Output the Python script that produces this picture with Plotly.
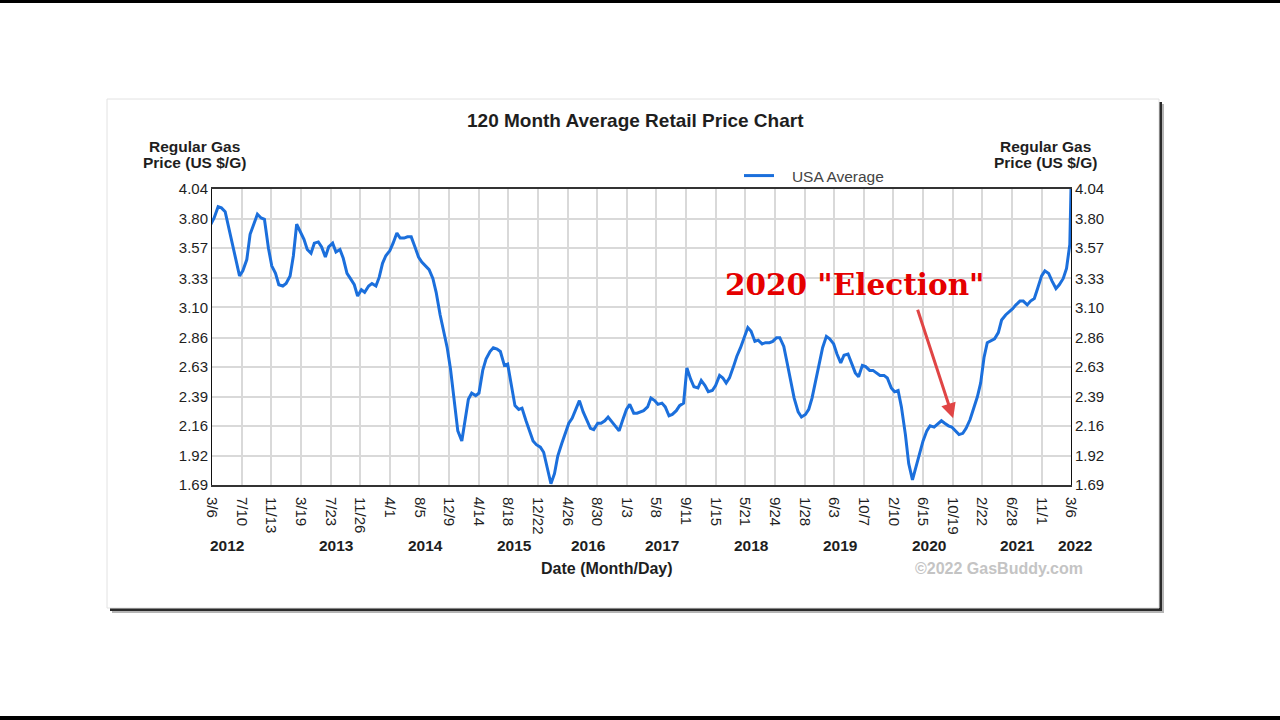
import pandas as pd
import plotly.graph_objects as go

# ---------------- data (semi-monthly: 1st and 15th of each month) ----------------
p2012 = [3.76, 3.81, 3.90, 3.89, 3.86, 3.74, 3.60, 3.49, 3.35, 3.39,
         3.48, 3.68, 3.77, 3.84, 3.81, 3.80, 3.57, 3.43, 3.37, 3.28]          # Mar..Dec
p2013 = [3.27, 3.29, 3.35, 3.51, 3.76, 3.71, 3.64, 3.56, 3.53, 3.61, 3.62, 3.58,
         3.50, 3.58, 3.61, 3.54, 3.56, 3.49, 3.37, 3.33, 3.28, 3.19, 3.24, 3.22]
p2014 = [3.27, 3.29, 3.27, 3.34, 3.45, 3.51, 3.55, 3.61, 3.69, 3.65, 3.65, 3.66,
         3.66, 3.59, 3.50, 3.46, 3.43, 3.40, 3.33, 3.22, 3.04, 2.91, 2.78, 2.61]
p2015 = [2.36, 2.12, 2.04, 2.20, 2.37, 2.42, 2.40, 2.42, 2.60, 2.69, 2.75, 2.78,
         2.77, 2.75, 2.64, 2.65, 2.46, 2.32, 2.29, 2.30, 2.20, 2.13, 2.04, 2.01]
p2016 = [1.99, 1.95, 1.82, 1.70, 1.78, 1.92, 2.02, 2.10, 2.18, 2.22, 2.29, 2.36,
         2.27, 2.21, 2.14, 2.13, 2.18, 2.18, 2.20, 2.23, 2.19, 2.16, 2.12, 2.20]
p2017 = [2.29, 2.33, 2.26, 2.26, 2.27, 2.28, 2.31, 2.38, 2.36, 2.33, 2.34, 2.31,
         2.24, 2.25, 2.28, 2.32, 2.34, 2.62, 2.53, 2.47, 2.46, 2.52, 2.48, 2.43]
p2018 = [2.44, 2.48, 2.56, 2.54, 2.50, 2.54, 2.63, 2.71, 2.78, 2.86, 2.94, 2.91,
         2.83, 2.84, 2.81, 2.82, 2.82, 2.83, 2.86, 2.86, 2.79, 2.66, 2.51, 2.38]
p2019 = [2.27, 2.23, 2.25, 2.29, 2.38, 2.50, 2.67, 2.78, 2.87, 2.85, 2.81, 2.73,
         2.66, 2.72, 2.73, 2.66, 2.58, 2.55, 2.64, 2.63, 2.60, 2.60, 2.58, 2.56]
p2020 = [2.56, 2.54, 2.46, 2.43, 2.44, 2.31, 2.09, 1.86, 1.73, 1.82, 1.94, 2.04,
         2.12, 2.16, 2.15, 2.17, 2.20, 2.18, 2.16, 2.15, 2.12, 2.09, 2.10, 2.14]
p2021 = [2.21, 2.29, 2.39, 2.50, 2.70, 2.82, 2.84, 2.85, 2.90, 3.00, 3.04, 3.06,
         3.09, 3.12, 3.15, 3.15, 3.12, 3.15, 3.17, 3.25, 3.35, 3.39, 3.37, 3.31]
p2022 = [3.25, 3.28, 3.33, 3.41, 3.60]                                        # Jan..Mar 1
last_date = "2022-03-06"
last_price = 4.04

x_tick_dates = ["2012-03-06", "2012-07-10", "2012-11-13", "2013-03-19", "2013-07-23",
                "2013-11-26", "2014-04-01", "2014-08-05", "2014-12-09", "2015-04-14",
                "2015-08-18", "2015-12-22", "2016-04-26", "2016-08-30", "2017-01-03",
                "2017-05-08", "2017-09-11", "2018-01-15", "2018-05-21", "2018-09-24",
                "2019-01-28", "2019-06-03", "2019-10-07", "2020-02-10", "2020-06-15",
                "2020-10-19", "2021-02-22", "2021-06-28", "2021-11-01", "2022-03-06"]
x_tick_labels = ["3/6", "7/10", "11/13", "3/19", "7/23", "11/26", "4/1", "8/5", "12/9",
                 "4/14", "8/18", "12/22", "4/26", "8/30", "1/3", "5/8", "9/11", "1/15",
                 "5/21", "9/24", "1/28", "6/3", "10/7", "2/10", "6/15", "10/19", "2/22",
                 "6/28", "11/1", "3/6"]
year_labels = ["2012", "2013", "2014", "2015", "2016", "2017", "2018", "2019",
               "2020", "2021", "2022"]
year_label_dates = ["2012-05-08", "2013-08-17", "2014-08-30", "2015-09-12", "2016-07-23",
                    "2017-06-02", "2018-06-15", "2019-06-28", "2020-07-10", "2021-07-23",
                    "2022-03-06"]
y_tick_labels = ["1.69", "1.92", "2.16", "2.39", "2.63", "2.86", "3.10", "3.33",
                 "3.57", "3.80", "4.04"]
election_date = "2020-10-21"
election_price = 2.22

prices = p2012 + p2013 + p2014 + p2015 + p2016 + p2017 + p2018 + p2019 + p2020 + p2021 + p2022
dates = list(pd.date_range("2012-03-01", "2022-03-01", freq="SMS"))
assert len(dates) == len(prices), (len(dates), len(prices))
dates = dates + [pd.Timestamp(last_date)]
prices = prices + [last_price]
y_ticks = [float(v) for v in y_tick_labels]

# ---------------- layout geometry ----------------
W, H = 1280, 720
L, R, T, B = 212, 209, 189, 235
PW, PH = W - L - R, H - T - B


def px(x):
    return (x - L) / PW


def py(y):
    return (H - B - y) / PH


FONT = "Liberation Sans, Arial, sans-serif"
BLUE = "#1b6fdc"
DARK = "#1e1e1e"

fig = go.Figure()
fig.add_trace(go.Scatter(x=dates, y=prices, mode="lines",
                         name="&nbsp;&nbsp;&nbsp;USA Average",
                         line=dict(color=BLUE, width=3), hoverinfo="skip"))
fig.add_trace(go.Scatter(x=dates, y=prices, mode="lines", yaxis="y2", showlegend=False,
                         line=dict(color=BLUE, width=0), opacity=0, hoverinfo="skip"))

axis_common = dict(range=[1.69, 4.04], tickvals=y_ticks, ticktext=y_tick_labels,
                   showgrid=True, gridcolor="#d9d9d9", gridwidth=1.5, zeroline=False,
                   showline=True, linecolor="#111", linewidth=1, ticks="",
                   tickfont=dict(family=FONT, size=15, color=DARK), fixedrange=True)

fig.update_layout(
    width=W, height=H,
    margin=dict(l=L, r=R, t=T, b=B, autoexpand=False),
    paper_bgcolor="white", plot_bgcolor="rgba(0,0,0,0)",
    showlegend=True,
    legend=dict(x=px(739), y=py(176), xanchor="left", yanchor="middle",
                orientation="h", bgcolor="rgba(0,0,0,0)", itemwidth=30,
                font=dict(family=FONT, size=15.5, color="#444")),
    xaxis=dict(type="date", range=["2012-03-06", "2022-03-06"],
               tickvals=x_tick_dates, ticktext=x_tick_labels, tickangle=90,
               showgrid=True, gridcolor="#d9d9d9", gridwidth=1.5, zeroline=False,
               showline=True, linecolor="#333", linewidth=2, mirror=True, ticks="",
               ticklabelstandoff=7,
               tickfont=dict(family=FONT, size=15, color=DARK), fixedrange=True),
    yaxis=dict(side="left", mirror=True, **axis_common),
    yaxis2=dict(side="right", overlaying="y", **axis_common),
    hovermode=False,
)

# ---------------- framing shapes ----------------
shapes = [
    dict(type="rect", xref="paper", yref="paper", x0=px(0), x1=px(W), y0=py(0), y1=py(3),
         fillcolor="black", line=dict(width=0), layer="below"),
    dict(type="rect", xref="paper", yref="paper", x0=px(0), x1=px(W), y0=py(716), y1=py(H),
         fillcolor="black", line=dict(width=0), layer="below"),
    dict(type="rect", xref="paper", yref="paper", x0=px(112), x1=px(1164), y0=py(104), y1=py(613),
         fillcolor="#b5b5b5", line=dict(width=0), layer="below"),
    dict(type="rect", xref="paper", yref="paper", x0=px(110), x1=px(1162), y0=py(102), y1=py(611),
         fillcolor="#2a2a2a", line=dict(width=0), layer="below"),
    dict(type="rect", xref="paper", yref="paper", x0=px(107), x1=px(1159), y0=py(99), y1=py(608),
         fillcolor="white", line=dict(color="#e2e2e2", width=1), layer="below"),
]
fig.update_layout(shapes=shapes)

# ---------------- texts ----------------
def txt(text, x, y, size, color=DARK, bold=True, xanchor="center", family=FONT):
    fig.add_annotation(text=f"<b>{text}</b>" if bold else text, x=px(x), y=py(y),
                       xref="paper", yref="paper", xanchor=xanchor, yanchor="middle",
                       showarrow=False, font=dict(family=family, size=size, color=color))


txt("120 Month Average Retail Price Chart", 635, 121, 19)
txt("Regular Gas", 194, 146, 15.5)
txt("Price (US $/G)", 194, 163, 15.5)
txt("Regular Gas", 1045, 146, 15.5)
txt("Price (US $/G)", 1045, 163, 15.5)
txt("Date (Month/Day)", 607, 568, 16)
txt("©2022 GasBuddy.com", 1085, 568, 16, color="#c4c4c4", xanchor="right")

for i, (lab, d) in enumerate(zip(year_labels, year_label_dates)):
    fig.add_annotation(text=f"<b>{lab}</b>", x=d, y=py(545), xref="x", yref="paper",
                       xanchor="center", yanchor="middle", showarrow=False,
                       xshift=4 if i == len(year_labels) - 1 else 0,
                       font=dict(family=FONT, size=15.5, color=DARK))

# election annotation
txt('2020 "Election"', 855, 284, 29.5, color="#e50000", family="DejaVu Serif, serif")
fig.add_annotation(x=election_date, y=election_price, xref="x", yref="y", text="",
                   showarrow=True, ax=-36, ay=-110, arrowhead=2, arrowsize=1,
                   arrowwidth=3, arrowcolor="#e04545", standoff=0)

fig.write_html("out.html", config={"displayModeBar": False},
               post_script="document.body.style.margin='0px';")
